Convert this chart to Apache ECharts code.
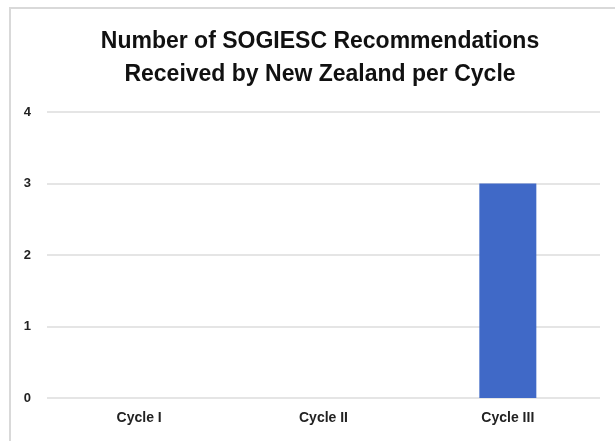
<!DOCTYPE html>
<html>
<head>
<meta charset="utf-8">
<script src="https://cdn.jsdelivr.net/npm/echarts@6/dist/echarts.min.js"></script>
<style>
  html, body { margin: 0; padding: 0; background: #fff; }
  #chart { width: 615px; height: 441px; }
</style>
</head>
<body>
<div id="chart"></div>
<script>
const titleLines = ['Number of SOGIESC Recommendations', 'Received by New Zealand per Cycle'];
const cycles = ['Cycle I', 'Cycle II', 'Cycle III'];
const recommendations = [0, 0, 3];
const yTicks = [0, 1, 2, 3, 4];

const chart = echarts.init(document.getElementById('chart'));

chart.setOption({
  animation: false,
  backgroundColor: '#fff',
  graphic: [{
    type: 'rect',
    shape: { x: 10, y: 8, width: 640, height: 460 },
    style: { fill: 'none', stroke: '#d9d9d9', lineWidth: 2 },
    silent: true
  }],
  title: {
    text: titleLines.join('\n'),
    left: 315,
    textAlign: 'center',
    top: 20,
    textStyle: {
      fontFamily: 'Liberation Sans, Arial, sans-serif',
      fontWeight: 'bold',
      fontSize: 23,
      lineHeight: 33,
      color: '#111'
    }
  },
  grid: { left: 47, right: 15, top: 112, bottom: 43 },
  xAxis: {
    type: 'category',
    data: cycles,
    axisLine: { show: false },
    axisTick: { show: false },
    axisLabel: {
      margin: 13,
      fontFamily: 'Liberation Sans, Arial, sans-serif',
      fontWeight: 'bold',
      fontSize: 14,
      color: '#222'
    }
  },
  yAxis: {
    type: 'value',
    min: yTicks[0],
    max: yTicks[yTicks.length - 1],
    interval: 1,
    axisLine: { show: false },
    axisTick: { show: false },
    axisLabel: {
      margin: 16,
      fontFamily: 'Liberation Sans, Arial, sans-serif',
      fontWeight: 'bold',
      fontSize: 13,
      color: '#222'
    },
    splitLine: { lineStyle: { color: '#dcdcdc', width: 1.5 } }
  },
  series: [{
    type: 'bar',
    data: recommendations,
    barWidth: 57,
    itemStyle: { color: '#4069c7' }
  }]
});
</script>
</body>
</html>
